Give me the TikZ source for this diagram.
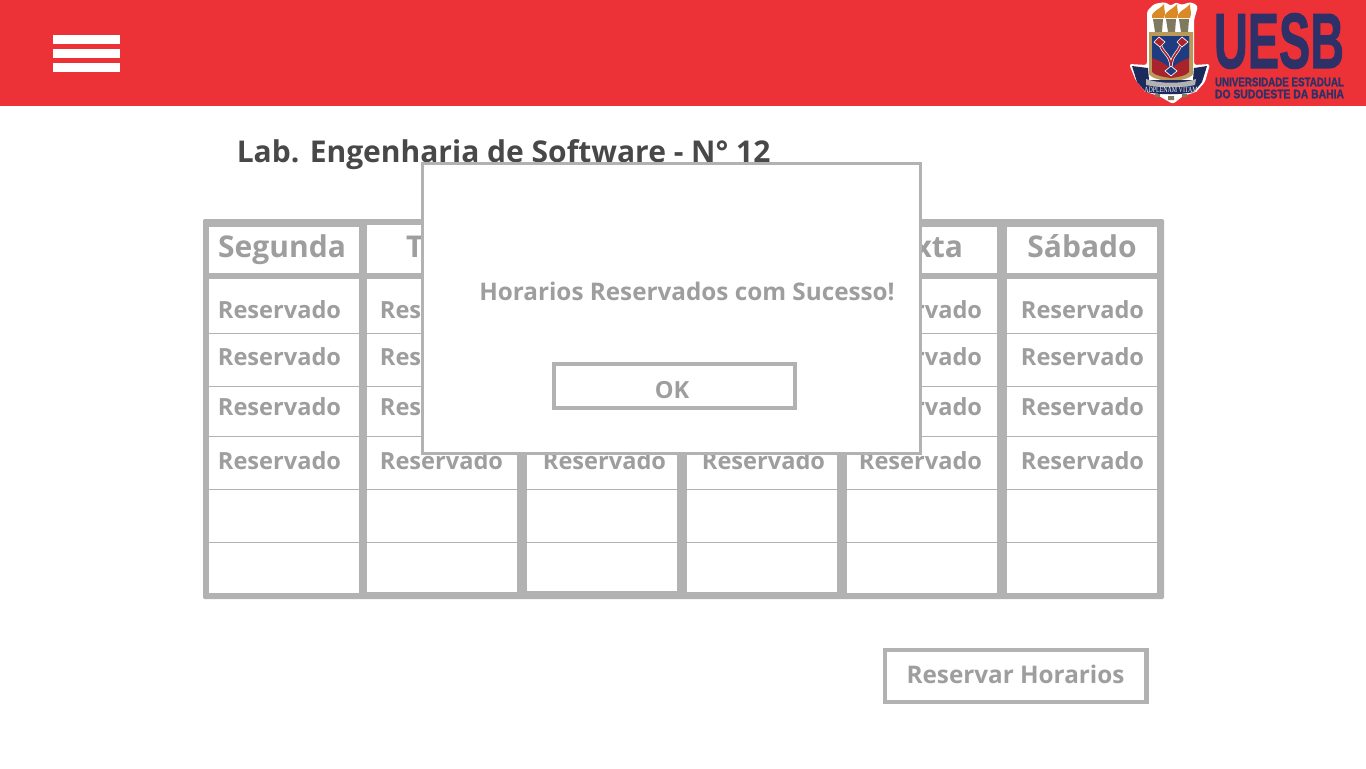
\documentclass[tikz,border=0pt]{standalone}
\usepackage{fontspec}
\setmainfont{Open Sans}
\newfontfamily\logofont[BoldFeatures={FakeBold=1.5}]{Liberation Sans}
\newfontfamily\mottofont{Liberation Serif}
\usepackage{xcolor}
\usepackage{tikz}
\usetikzlibrary{positioning}
\definecolor{bandred}{HTML}{EC3237}
\definecolor{framegray}{HTML}{B2B2B2}
\definecolor{labelgray}{HTML}{9E9E9E}
\definecolor{titlegray}{HTML}{484848}
\definecolor{uesbnavy}{HTML}{2E3068}
\definecolor{crestgold}{HTML}{B99A5B}
\definecolor{crestblue}{HTML}{1F3C80}
\definecolor{crestred}{HTML}{A8232C}
\definecolor{flamegold}{HTML}{D98A26}
\definecolor{torchgray}{HTML}{7F7A5E}
\definecolor{ribbonblue}{HTML}{1C2A5C}

\begin{document}
\begin{tikzpicture}[
    x=0.75pt, y=-0.75pt,
    bar/.style={rectangle, fill=white, minimum width=50.25pt, minimum height=6.75pt, inner sep=0pt},
    daybox/.style={rectangle, fill=white, minimum width=112.5pt, minimum height=34.5pt, inner sep=0pt},
    slotbox/.style={rectangle, fill=white, minimum width=112.5pt, minimum height=235.5pt, inner sep=0pt},
    daytext/.style={font=\bfseries\fontsize{22.5}{26}\selectfont, text=labelgray, inner sep=0pt, anchor=base},
    slot/.style={font=\bfseries\fontsize{17.7}{22}\selectfont, text=labelgray, inner sep=0pt},
    rowline/.style={draw=framegray, line width=0.75pt},
    button/.style={rectangle, draw=framegray, fill=white, inner sep=0pt}
]
    \useasboundingbox (0,0) rectangle (1366,768);

    % Top band
    \node [rectangle, fill=bandred, minimum width=1024.5pt, minimum height=79.5pt, inner sep=0pt] (band) at (683,53) {};
    \node [bar] (bar1) at (86.5,39.5) {};
    \node [bar, below of=bar1, node distance=10.5pt] (bar2) {};
    \node [bar, below of=bar2, node distance=10.5pt] (bar3) {};

    % Logo
    \fill [white, rounded corners=2pt] (1147,11) -- (1154,4) -- (1165,2) -- (1171,6) -- (1176,2) -- (1181,5) -- (1191,2) -- (1198,6) -- (1194,20) -- (1194,65) -- (1210,64) -- (1205,82) -- (1196,92) -- (1183,96) -- (1173,104) -- (1159,96) -- (1146,92) -- (1136,81) -- (1129,64) -- (1147,65) -- cycle;
    \fill [flamegold] (1152,18) .. controls (1151,11) and (1158,11) .. (1164,4) .. controls (1164,10) and (1166,13) .. (1164,18) -- cycle;
    \fill [flamegold] (1165,18) .. controls (1164,11) and (1171,11) .. (1177,4) .. controls (1177,10) and (1179,13) .. (1177,18) -- cycle;
    \fill [flamegold] (1178,18) .. controls (1177,11) and (1184,11) .. (1190,4) .. controls (1190,10) and (1192,13) .. (1190,18) -- cycle;
    \fill [torchgray] (1153,19) -- (1163,19) -- (1162,32) -- (1155,32) -- cycle (1166,19) -- (1176,19) -- (1175,32) -- (1168,32) -- cycle (1179,19) -- (1189,19) -- (1188,32) -- (1181,32) -- cycle;
    \fill [crestgold] (1149,32) -- (1193,32) -- (1193,74) .. controls (1190,79) and (1180,80) .. (1171,82) .. controls (1162,80) and (1152,79) .. (1149,74) -- cycle;
    \fill [crestred] (1152,36) -- (1189,36) -- (1189,72) .. controls (1186,76) and (1178,77) .. (1171,78) .. controls (1164,77) and (1156,76) .. (1152,72) -- cycle;
    \fill [crestblue] (1152,36) -- (1189,36) -- (1189,58) .. controls (1182,60) and (1176,64) .. (1172,68) -- (1170,68) .. controls (1166,64) and (1159,60) .. (1152,58) -- cycle;
    \draw [white, line width=2.25pt] (1160,44) .. controls (1163,54) and (1170,54) .. (1171,66) .. controls (1172,54) and (1178,54) .. (1181,44);
    \draw [crestred, line width=1.25pt] (1160,44) .. controls (1163,54) and (1170,54) .. (1171,66) .. controls (1172,54) and (1178,54) .. (1181,44);
    \filldraw [crestred, draw=white, line width=0.5pt] (1159,37) -- (1165,42) -- (1160,47) -- (1154,42) -- cycle (1182,37) -- (1188,42) -- (1182,47) -- (1177,42) -- cycle;
    \filldraw [crestblue, draw=white, line width=0.5pt] (1171,66) -- (1177,71) -- (1171,76) -- (1165,71) -- cycle;
    \fill [ribbonblue] (1132,66) -- (1148,68) -- (1149,80) -- (1193,80) -- (1194,68) -- (1207,66) -- (1202,82) -- (1194,92) .. controls (1180,95) and (1160,95) .. (1146,92) -- (1137,82) -- cycle;
    \fill [black!30] (1146,79) .. controls (1160,84) and (1182,84) .. (1196,79) -- (1195,85) .. controls (1180,88) and (1160,88) .. (1146,85) -- cycle;
    \fill [torchgray] (1155,94) rectangle (1160,97) (1168,96) rectangle (1174,100) (1182,94) rectangle (1187,97);
    \node [text=white, inner sep=0pt] (motto) at (1171,89.5) {\resizebox{40pt}{4pt}{\mottofont ADPLENAM VITAM}};
    \node [text=uesbnavy, inner sep=0pt] (uesb) at (1279,41) {\resizebox{97.5pt}{41pt}{\logofont\bfseries UESB}};
    \node [text=uesbnavy, inner sep=0pt] (uni1) at (1279.5,82) {\resizebox{96.75pt}{6.5pt}{\logofont\bfseries UNIVERSIDADE ESTADUAL}};
    \node [text=uesbnavy, inner sep=0pt] (uni2) at (1279.5,94) {\resizebox{96.75pt}{6.5pt}{\logofont\bfseries DO SUDOESTE DA BAHIA}};

    % Title
    \node [font=\bfseries\fontsize{22.5}{26}\selectfont, text=titlegray, inner sep=0pt, anchor=west] (title) at (236.5,155) {Lab. Engenharia de Software - N° 12};

    % Table
    \node [rectangle, fill=framegray, rounded corners=1pt, minimum width=720.75pt, minimum height=285pt, inner sep=0pt] (frame) at (683.5,409) {};
    \node [daybox] (segbox) at (283.5,250) {};
    \node [daybox, minimum height=36pt] (terbox) at (442,249) {};
    \node [daybox] (sexbox) at (922,250) {};
    \node [daybox] (sabbox) at (1082,250) {};
    \node [slotbox] (seg) at (283.5,436.25) {};
    \node [slotbox, minimum height=234.75pt] (ter) at (442,435.5) {};
    \node [slotbox, minimum height=234pt] (qua) at (602,435) {};
    \node [slotbox, minimum height=234.75pt] (qui) at (762,435.5) {};
    \node [slotbox] (sex) at (922,436.25) {};
    \node [slotbox] (sab) at (1082,436.25) {};

    % Rows
    \draw [rowline] (seg.west |- 0,333.5) -- (sab.east |- 0,333.5);
    \draw [rowline] (seg.west |- 0,386.5) -- (sab.east |- 0,386.5);
    \draw [rowline] (seg.west |- 0,436.5) -- (sab.east |- 0,436.5);
    \draw [rowline] (seg.west |- 0,489.5) -- (sab.east |- 0,489.5);
    \draw [rowline] (seg.west |- 0,542.5) -- (sab.east |- 0,542.5);

    % Day names
    \node [daytext] (segday) at (282,257.5) {Segunda};
    \node [daytext] (terday) at (446,257.5) {Terça};
    \node [daytext] (sexday) at (922,257.5) {Sexta};
    \node [daytext] (sabday) at (1082,257.5) {Sábado};

    % Reserved slots
    \node [slot] (seg1) at (279.5,310) {Reservado};
    \node [slot, below of=seg1, node distance=35.25pt] (seg2) {Reservado};
    \node [slot, below of=seg2, node distance=37.5pt] (seg3) {Reservado};
    \node [slot, below of=seg3, node distance=40.5pt] (seg4) {Reservado};
    \node [slot, right of=seg1, node distance=121.5pt] (ter1) {Reservado};
    \node [slot, right of=seg2, node distance=121.5pt] (ter2) {Reservado};
    \node [slot, right of=seg3, node distance=121.5pt] (ter3) {Reservado};
    \node [slot, right of=seg4, node distance=121.5pt] (ter4) {Reservado};
    \node [slot, right of=ter4, node distance=122.25pt] (qua4) {Reservado};
    \node [slot, right of=qua4, node distance=119.25pt] (qui4) {Reservado};
    \node [slot, right of=qui4, node distance=117.75pt] (sex4) {Reservado};
    \node [slot, above of=sex4, node distance=40.5pt] (sex3) {Reservado};
    \node [slot, above of=sex3, node distance=37.5pt] (sex2) {Reservado};
    \node [slot, above of=sex2, node distance=35.25pt] (sex1) {Reservado};
    \node [slot, right of=sex1, node distance=121.5pt] (sab1) {Reservado};
    \node [slot, right of=sex2, node distance=121.5pt] (sab2) {Reservado};
    \node [slot, right of=sex3, node distance=121.5pt] (sab3) {Reservado};
    \node [slot, right of=sex4, node distance=121.5pt] (sab4) {Reservado};

    % Dialog
    \node [button, line width=2.25pt, minimum width=373.5pt, minimum height=217.5pt] (dialog) at (671.5,308.5) {};
    \node [slot, font=\bfseries\fontsize{18.2}{22}\selectfont] (message) at (687,291.5) {Horarios Reservados com Sucesso!};
    \node [button, line width=2.75pt, minimum width=181pt, minimum height=33.25pt] (okbox) at (674.5,386) {};
    \node [slot] (oktext) at (672,390) {OK};

    % Reserve button
    \node [button, slot, font=\bfseries\fontsize{18.2}{22}\selectfont, draw=framegray, fill=white, line width=3.25pt, minimum width=196.25pt, minimum height=39pt, text depth=2pt] (reserve) at (1015.5,676) {Reservar Horarios};
\end{tikzpicture}
\end{document}
